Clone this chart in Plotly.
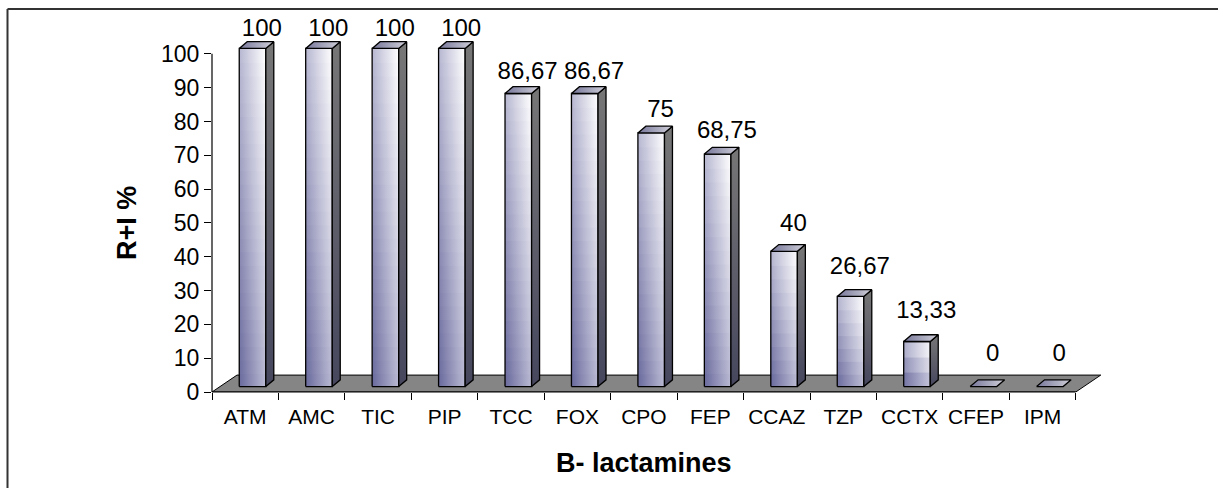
import plotly.graph_objects as go

# ---------------- data ----------------
categories = ["ATM", "AMC", "TIC", "PIP", "TCC", "FOX", "CPO", "FEP",
              "CCAZ", "TZP", "CCTX", "CFEP", "IPM"]
values = [100, 100, 100, 100, 86.67, 86.67, 75, 68.75, 40, 26.67, 13.33, 0, 0]
y_ticks = list(range(0, 101, 10))
x_title = "B- lactamines"
y_title = "R+I %"

# ---------------- geometry (axis units) ----------------
X_MAX = 13.5
Y_MAX = 110
FRONT_L, FRONT_R = 0.41, 0.81
BASE_DY = 1.6
DEPTH_DX, DEPTH_DY = 0.12, 2.0
FLOOR_DX, FLOOR_DY = 0.376, 5.0
LABEL_DX = 0.75
LABEL_DY0, LABEL_DY_SLOPE = 11.0, -0.04

FONT = "Liberation Sans, Arial, sans-serif"
W, H = 1218, 488
ML, MR, MT, MB = 212, 109, 20, 96
PW, PH = W - ML - MR, H - MT - MB

FRONT_STOPS = [(0.0, (0x68, 0x68, 0x9C)), (0.5, (0xB8, 0xB8, 0xD2)), (1.0, (0xFF, 0xFF, 0xFF))]


def front_color(t):
    t = max(0.0, min(1.0, t))
    for (t0, c0), (t1, c1) in zip(FRONT_STOPS[:-1], FRONT_STOPS[1:]):
        if t <= t1:
            f = (t - t0) / (t1 - t0)
            c = [round(a + (b - a) * f) for a, b in zip(c0, c1)]
            return "rgb(%d,%d,%d)" % tuple(c)
    return "rgb(255,255,255)"


fig = go.Figure()

# floor
n = len(categories)
fig.add_trace(go.Scatter(
    x=[0, n, n + FLOOR_DX, FLOOR_DX, 0],
    y=[0, 0, FLOOR_DY, FLOOR_DY, 0],
    mode="lines", fill="toself", fillcolor="#858585",
    line=dict(color="black", width=1), hoverinfo="skip"))

for i, v in enumerate(values):
    L = i + FRONT_L
    R = i + FRONT_R
    b = BASE_DY
    top = v + BASE_DY
    if v > 0:
        # front face: banded diagonal gradient
        K = max(3, int(round(v / 4)))
        for k in range(K):
            lo = b + v * k / K
            hi = b + v * (k + 1) / K
            lo2 = max(b, lo - 0.3)
            vm = (k + 0.5) / K
            cs = [[u, front_color((u + vm) / 2)] for u in (0, 0.25, 0.5, 0.75, 1)]
            fig.add_trace(go.Scatter(
                x=[L, R, R, L, L], y=[lo2, lo2, hi, hi, lo2],
                mode="lines", fill="toself", line=dict(width=0),
                fillgradient=dict(type="horizontal", colorscale=cs),
                hoverinfo="skip"))
        fig.add_trace(go.Scatter(
            x=[L, R, R, L, L], y=[b, b, top, top, b], mode="lines",
            line=dict(color="black", width=1.3), hoverinfo="skip"))
        # side face
        fig.add_trace(go.Scatter(
            x=[R, R + DEPTH_DX, R + DEPTH_DX, R, R],
            y=[b, b + DEPTH_DY, top + DEPTH_DY, top, b],
            mode="lines", fill="toself",
            fillgradient=dict(type="vertical",
                              colorscale=[[0, "#46465e"], [1, "#777777"]]),
            line=dict(color="black", width=1.3), hoverinfo="skip"))
    # top face
    fig.add_trace(go.Scatter(
        x=[L, R, R + DEPTH_DX, L + DEPTH_DX, L],
        y=[top, top, top + DEPTH_DY, top + DEPTH_DY, top],
        mode="lines", fill="toself",
        fillgradient=dict(type="horizontal",
                          colorscale=[[0, "#76769a"], [1, "#d0d0da"]]),
        line=dict(color="black", width=1.3), hoverinfo="skip"))

# data labels
fig.add_trace(go.Scatter(
    x=[i + LABEL_DX for i in range(n)],
    y=[v + LABEL_DY0 + LABEL_DY_SLOPE * v for v in values],
    mode="text",
    text=[("%g" % v).replace(".", ",") for v in values],
    textposition="middle center",
    textfont=dict(family=FONT, size=24, color="black"),
    hoverinfo="skip", cliponaxis=False))

shapes = [
    # x axis line (front edge of floor)
    dict(type="line", xref="paper", yref="paper", x0=0, x1=n / X_MAX, y0=0, y1=0,
         line=dict(color="black", width=1.2)),
    # y axis line
    dict(type="line", xref="paper", yref="paper", x0=0, x1=0, y0=0,
         y1=max(y_ticks) / Y_MAX, line=dict(color="black", width=1.2)),
    # outer frame (left and top)
    dict(type="line", xref="paper", yref="paper",
         x0=(7.5 - ML) / PW, x1=(7.5 - ML) / PW, y0=-0.5, y1=(H - MB - 9) / PH,
         line=dict(color="#333333", width=2)),
    dict(type="line", xref="paper", yref="paper",
         x0=(7.5 - ML) / PW, x1=1.5, y0=(H - MB - 9) / PH, y1=(H - MB - 9) / PH,
         line=dict(color="#333333", width=2)),
]

annotations = [
    dict(text="<b>%s</b>" % y_title, xref="paper", yref="y",
         x=(127 - ML) / PW, y=50, textangle=-90, showarrow=False,
         xanchor="center", yanchor="middle",
         font=dict(family=FONT, size=27, color="black")),
    dict(text="<b>%s</b>" % x_title, xref="x", yref="paper",
         x=n / 2, y=-(463 - (H - MB)) / PH, showarrow=False,
         xanchor="center", yanchor="middle",
         font=dict(family=FONT, size=27, color="black")),
]

fig.update_layout(
    width=W, height=H,
    margin=dict(l=ML, r=MR, t=MT, b=MB),
    plot_bgcolor="white", paper_bgcolor="white",
    showlegend=False,
    shapes=shapes, annotations=annotations,
    xaxis=dict(range=[0, X_MAX], tickmode="array",
               tickvals=[i + 0.5 for i in range(n)], ticktext=categories,
               ticks="", showline=False, showgrid=False, zeroline=False,
               tickfont=dict(family=FONT, size=21, color="black"),
               ticklabelstandoff=10,
               minor=dict(tickmode="array", tickvals=list(range(n + 1)),
                          ticks="outside", ticklen=7, tickcolor="black",
                          tickwidth=1, showgrid=False)),
    yaxis=dict(range=[0, Y_MAX], tickmode="array", tickvals=y_ticks,
               ticks="outside", ticklen=7, tickcolor="black", tickwidth=1,
               showline=False, showgrid=False, zeroline=False,
               tickfont=dict(family=FONT, size=23, color="black")),
)

fig.write_html("out.html")
